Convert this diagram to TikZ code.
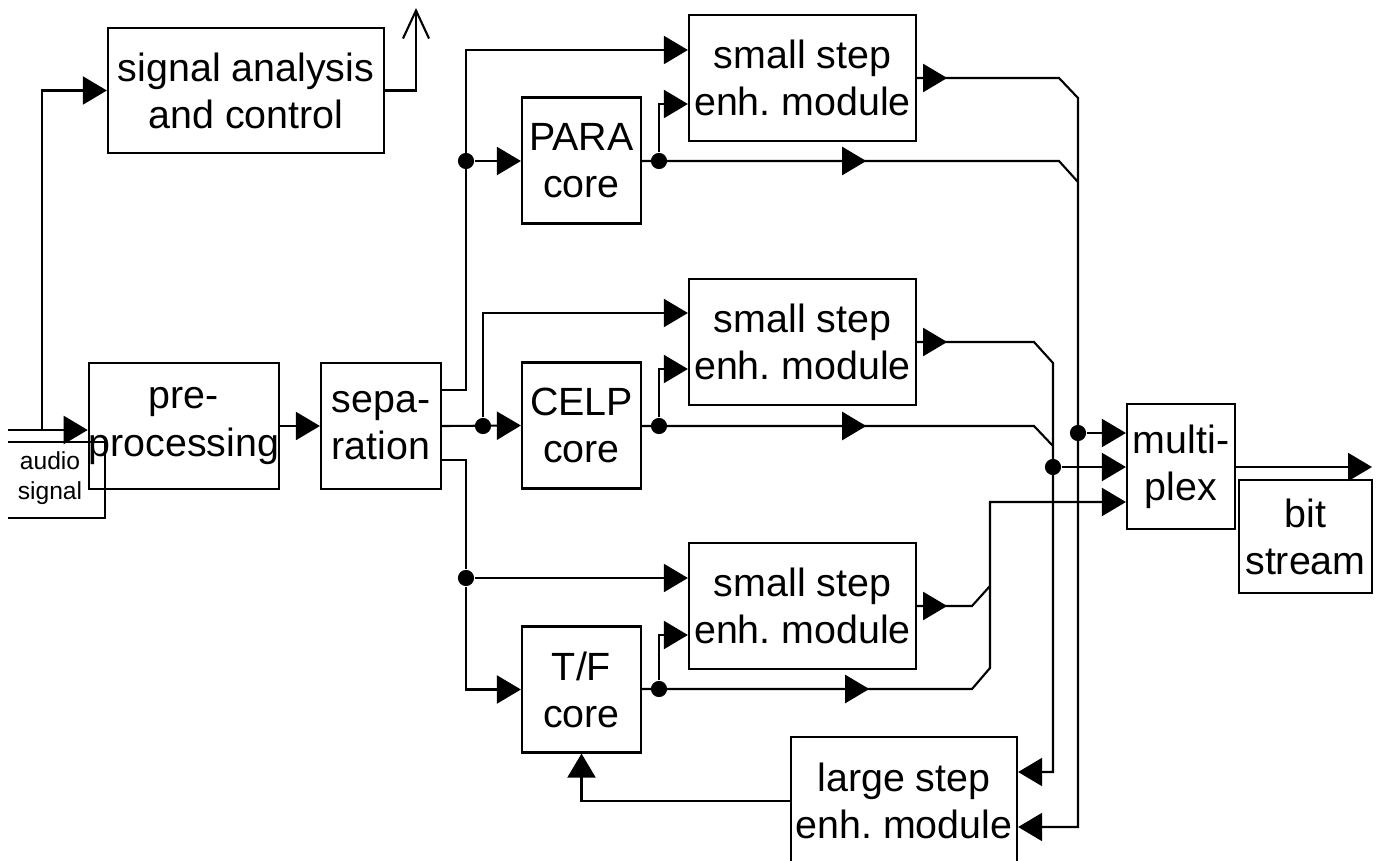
\documentclass[tikz,border=0pt]{standalone}
\usepackage{fontspec}
\setmainfont{Liberation Sans}
\usetikzlibrary{arrows.meta}
\usetikzlibrary{decorations.markings}

\tikzset{
	blk/.style={draw, align=center, inner sep=0pt, font=\fontsize{11.2}{13.4}\selectfont},
	corebox/.style={blk, minimum width=1.19cm, minimum height=1.26cm},
	stepbox/.style={blk, minimum width=2.27cm, minimum height=1.26cm},
	arr/.style={-{Triangle[length=0.24cm,width=0.28cm]}},
	midarr/.style={postaction={decorate},
		decoration={markings, mark=at position #1 with {\arrow{Triangle[length=0.24cm,width=0.28cm]}}}},
	junction/.style={circle, fill, inner sep=0pt, minimum size=4.6pt}
}

\begin{document}
\begin{tikzpicture}[x=0.01cm,y=-0.01cm,line width=0.6pt]
	\useasboundingbox (0,0) rectangle (1385,861);
	
	% blocks
	\node[blk, minimum width=2.76cm, minimum height=1.25cm] (sigana) at (246,90.5) {signal analysis\\and control};
	\node[blk, minimum width=1.90cm, minimum height=1.26cm] (prep) at (184,426) {pre-\\processing};
	\node[blk, minimum width=1.20cm, minimum height=1.26cm] (sepa) at (381,426) {sepa-\\ration};
	\node[corebox] (para) at (581.5,160.5) {PARA\\core};
	\node[corebox] (celp) at (581.5,425.5) {CELP\\core};
	\node[corebox] (tf) at (581.5,689.5) {T/F\\core};
	\node[stepbox] (sstop) at (802.5,78) {small step\\enh.\ module};
	\node[stepbox] (ssmid) at (802.5,342) {small step\\enh.\ module};
	\node[stepbox] (ssbot) at (802.5,606) {small step\\enh.\ module};
	\node[blk, minimum width=2.26cm, minimum height=1.27cm] (large) at (904,800.5) {large step\\enh.\ module};
	\node[blk, minimum width=1.08cm, minimum height=1.25cm] (mux) at (1181,466.5) {multi-\\plex};
	\node[blk, minimum width=1.33cm, minimum height=1.13cm] (bits) at (1305.5,536.5) {bit\\stream};
	\node[align=center, font=\fontsize{7}{8.5}\selectfont] (audio) at (50,478) {audio\\signal};
	
	% input
	\coordinate (in1) at (8,430);
	\coordinate (in2) at (8,442);
	\coordinate (in3) at (8,518);
	\coordinate (inc) at (105,518);
	\coordinate (tap) at (42,430);
	\draw[arr] (in1) -- (prep.west |- in1);
	\draw[arr] (tap) |- (sigana.west);
	\draw (in2) -| (inc) -- (in3);
	
	\coordinate (ctrl) at (416,8);
	\draw[-{Straight Barb[length=0.28cm,width=0.26cm]}] (sigana.east) -| (ctrl);
	
	\draw[arr] (prep) -- (sepa);
	
	% separation outputs
	\node[junction] (jpara) at (466,161) {};
	\node[junction] (jcelp) at (483,426) {};
	\node[junction] (jtf) at (466,578) {};
	\draw[arr] (sepa.east |- 0,390) -| (466,50) -- (sstop.west |- 0,50);
	\draw[arr] (jpara) -- (para.west |- jpara);
	\draw[arr] (sepa.east) -- (celp.west);
	\draw[arr] (jcelp) |- (ssmid.west |- 0,313);
	\draw[arr] (sepa.east |- 0,460) -| (jtf) |- (tf.west);
	\draw[arr] (jtf) -- (ssbot.west |- jtf);
	
	% core outputs
	\node[junction] (opara) at (659,161) {};
	\node[junction] (ocelp) at (659,426) {};
	\node[junction] (otf) at (659,689) {};
	\draw[arr] (opara) |- (sstop.west |- 0,104);
	\draw[arr] (ocelp) |- (ssmid.west |- 0,369);
	\draw[arr] (otf) |- (ssbot.west |- 0,635);
	\draw[midarr=2.24cm] (para.east |- opara) -- (1059,161) -- (1078,182);
	\draw[midarr=2.24cm] (celp.east |- ocelp) -- (1034,426) -- (1053,446);
	\draw[midarr=2.27cm] (tf.east |- otf) -- (972,689) -- (990,668) -- (990,586);
	
	% to multiplexer and large step
	\draw[arr, midarr=0.3cm] (sstop.east) -- (1059,78) -- (1078,98) -- (1078,827) -- (large.east |- 0,827);
	\draw[arr, midarr=0.3cm] (ssmid.east) -- (1034,342) -- (1053,363) -- (1053,772) -- (large.east |- 0,772);
	\draw[arr, midarr=0.3cm] (ssbot.east) -- (972,606) -- (990,586) -- (990,502) -- (mux.west |- 0,502);
	\node[junction] (jmux1) at (1078,433) {};
	\node[junction] (jmux2) at (1053,467) {};
	\draw[arr] (jmux1) -- (mux.west |- jmux1);
	\draw[arr] (jmux2) -- (mux.west |- jmux2);
	
	\coordinate (out) at (1372,467);
	\draw[arr] (mux.east |- out) -- (out);
	
	\draw[arr] (large.west |- 0,801) -| (tf.south);
	
\end{tikzpicture}
\end{document}
